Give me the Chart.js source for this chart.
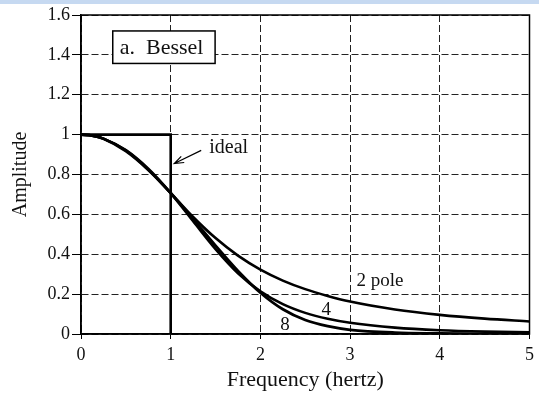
<!DOCTYPE html>
<html lang="en">
<head>
<meta charset="UTF-8">
<title>Bessel filter response</title>
<script src="https://cdn.jsdelivr.net/npm/chart.js"></script>
<style>
  body { margin: 0; background: #fff; }
  .strip { position: absolute; left: 0; top: 0; width: 539px; height: 4px; background: #c6d9f1; }
  canvas { display: block; }
</style>
</head>
<body>
<div class="strip"></div>
<canvas id="chart" width="539" height="394"></canvas>
<script>
// values
const freq  = [0, 0.125, 0.25, 0.5, 0.75, 1, 1.25, 1.5, 1.75, 2, 2.25, 2.5, 2.75, 3, 3.5, 4, 4.5, 5];
const pole2 = [1, 0.995, 0.98, 0.921, 0.825, 0.707, 0.587, 0.481, 0.393, 0.323, 0.268, 0.225, 0.191, 0.163, 0.123, 0.096, 0.077, 0.063];
const pole4 = [1, 0.995, 0.98, 0.922, 0.829, 0.707, 0.566, 0.426, 0.305, 0.214, 0.15, 0.106, 0.076, 0.056, 0.032, 0.019, 0.012, 0.008];
const pole8 = [1, 0.995, 0.979, 0.917, 0.823, 0.707, 0.576, 0.443, 0.316, 0.207, 0.124, 0.07, 0.039, 0.021, 0.007, 0.003, 0.001, 0.0004];
const idealX = [0, 1, 1];
const idealY = [1, 1, 0];
const xTickLabels = ['0', '1', '2', '3', '4', '5'];
const yTickLabels = ['0', '0.2', '0.4', '0.6', '0.8', '1', '1.2', '1.4', '1.6'];

const serif = '"Liberation Serif", "Times New Roman", serif';
const ink = '#111';

function pts(xs, ys) {
  return xs.map((v, i) => ({ x: v, y: ys[i] }));
}

function curve(label, ys, width) {
  return {
    label: label,
    data: pts(freq, ys),
    borderColor: '#000',
    borderWidth: width,
    pointRadius: 0,
    cubicInterpolationMode: 'monotone',
    fill: false
  };
}

// frame + text notes drawn on top of the plot
const notes = {
  id: 'notes',
  afterDatasetsDraw(chart) {
    const { ctx, chartArea: a, scales: { x, y } } = chart;
    ctx.save();
    ctx.strokeStyle = '#000';
    ctx.lineWidth = 1.5;
    ctx.strokeRect(a.left, a.top, a.right - a.left, a.bottom - a.top);

    // title box
    const bx1 = x.getPixelForValue(0.354), bx2 = x.getPixelForValue(1.495);
    const by1 = y.getPixelForValue(1.52), by2 = y.getPixelForValue(1.357);
    ctx.fillStyle = '#fff';
    ctx.fillRect(bx1, by1, bx2 - bx1, by2 - by1);
    ctx.strokeRect(bx1, by1, bx2 - bx1, by2 - by1);
    ctx.fillStyle = ink;
    ctx.font = '22px ' + serif;
    ctx.textBaseline = 'alphabetic';
    ctx.fillText('a.  Bessel', bx1 + 7, by1 + 23);

    // ideal label + arrow
    ctx.font = '20px ' + serif;
    ctx.fillText('ideal', x.getPixelForValue(1.43), y.getPixelForValue(0.906));
    const sx = x.getPixelForValue(1.34), sy = y.getPixelForValue(0.921);
    const ex = x.getPixelForValue(1.04), ey = y.getPixelForValue(0.855);
    ctx.lineWidth = 1.2;
    ctx.beginPath();
    ctx.moveTo(sx, sy);
    ctx.lineTo(ex, ey);
    const ang = Math.atan2(ey - sy, ex - sx);
    ctx.moveTo(ex - 10 * Math.cos(ang - 0.35), ey - 10 * Math.sin(ang - 0.35));
    ctx.lineTo(ex, ey);
    ctx.lineTo(ex - 10 * Math.cos(ang + 0.35), ey - 10 * Math.sin(ang + 0.35));
    ctx.stroke();

    // curve labels
    ctx.font = '19px ' + serif;
    ctx.fillText('2 pole', x.getPixelForValue(3.07), y.getPixelForValue(0.24));
    ctx.fillText('4', x.getPixelForValue(2.68), y.getPixelForValue(0.097));
    ctx.fillText('8', x.getPixelForValue(2.22), y.getPixelForValue(0.022));
    ctx.restore();
  }
};

new Chart(document.getElementById('chart'), {
  type: 'line',
  data: {
    datasets: [
      curve('2 pole', pole2, 2.6),
      curve('4 pole', pole4, 2.6),
      curve('8 pole', pole8, 2.8),
      {
        label: 'ideal',
        data: pts(idealX, idealY),
        borderColor: '#000',
        borderWidth: 2.6,
        pointRadius: 0,
        tension: 0,
        fill: false
      }
    ]
  },
  options: {
    responsive: false,
    animation: false,
    layout: { padding: { top: 15, right: 6, left: 0, bottom: 0 } },
    plugins: {
      legend: { display: false },
      tooltip: { enabled: false }
    },
    scales: {
      x: {
        type: 'linear',
        min: 0,
        max: 5,
        afterFit: s => { s.height = 60; },
        ticks: {
          stepSize: 1,
          color: ink,
          font: { family: serif, size: 18 },
          padding: 5,
          callback: (v, i) => xTickLabels[i]
        },
        grid: { color: '#222', lineWidth: 1, tickLength: 5, tickColor: '#000', tickBorderDash: [] },
        border: { color: '#000', width: 1.5, dash: [7, 3] },
        title: {
          display: true,
          text: 'Frequency (hertz)',
          color: ink,
          font: { family: serif, size: 22 },
          padding: { top: 0, bottom: 1 }
        }
      },
      y: {
        min: 0,
        max: 1.6,
        afterFit: s => { s.width = 81; },
        ticks: {
          stepSize: 0.2,
          color: ink,
          font: { family: serif, size: 18 },
          padding: 2,
          callback: (v, i) => yTickLabels[i]
        },
        grid: { color: '#222', lineWidth: 1, tickLength: 9, tickColor: '#000', tickBorderDash: [] },
        border: { color: '#000', width: 1.5, dash: [7, 3] },
        title: {
          display: true,
          text: 'Amplitude',
          color: ink,
          font: { family: serif, size: 20 },
          padding: { top: 9, bottom: 0 }
        }
      }
    }
  },
  plugins: [notes]
});
</script>
</body>
</html>
